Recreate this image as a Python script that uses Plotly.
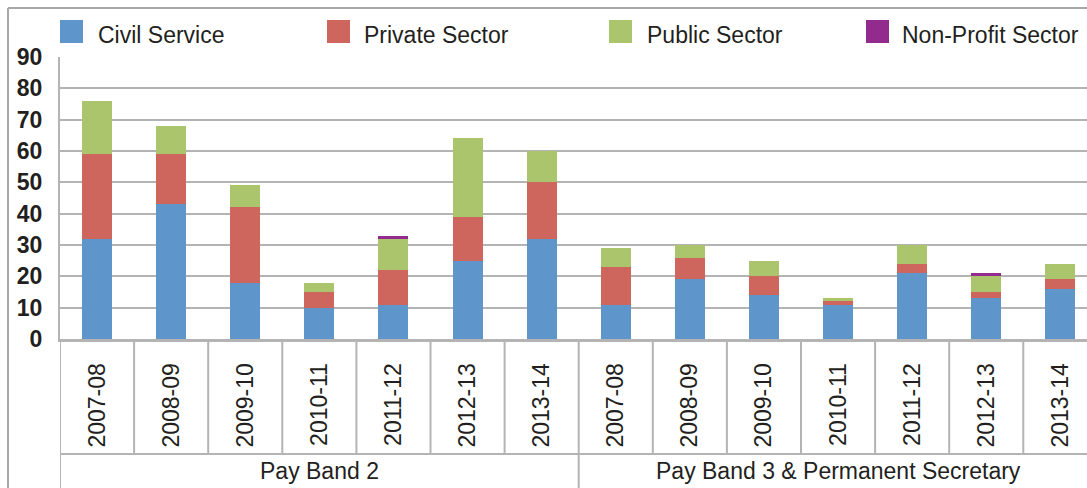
import plotly.graph_objects as go

# Financial years shown inside each pay band group
years = ["2007-08", "2008-09", "2009-10", "2010-11", "2011-12", "2012-13", "2013-14"]
groups = ["Pay Band 2", "Pay Band 3 & Permanent Secretary"]

# Appointments by sector (Pay Band 2 years, then Pay Band 3 & Perm Sec years)
civil_service = [32, 43, 18, 10, 11, 25, 32, 11, 19, 14, 11, 21, 13, 16]
private_sector = [27, 16, 24, 5, 11, 14, 18, 12, 7, 6, 1, 3, 2, 3]
public_sector = [17, 9, 7, 3, 10, 25, 10, 6, 4, 5, 1, 6, 5, 5]
non_profit_sector = [0, 0, 0, 0, 1, 0, 0, 0, 0, 0, 0, 0, 1, 0]

series_names = ["Civil Service", "Private Sector", "Public Sector", "Non-Profit Sector"]
series_values = [civil_service, private_sector, public_sector, non_profit_sector]
series_colors = ["#5E95CB", "#CF665D", "#ABC56D", "#922B8D"]

y_ticks = [0, 10, 20, 30, 40, 50, 60, 70, 80, 90]

W, H = 1087, 488
ML, MR, MT, MB = 60, 0, 57, 149
PW, PH = W - ML - MR, H - MT - MB
LINE = "#B4B4B4"
TEXT = "#231F20"
FONT = "Liberation Sans"


def px_x(p):
    return (p - ML) / PW


def px_y(p):
    return (H - MB - p) / PH


categories = [y for _ in groups for y in years]
xpos = list(range(len(categories)))
n_per_group = len(years)

fig = go.Figure()
for name, vals, col in zip(series_names, series_values, series_colors):
    fig.add_trace(go.Bar(
        x=xpos, y=[v if v else None for v in vals], name=name,
        marker=dict(color=col, line=dict(width=0)),
        width=0.405, showlegend=False,
    ))

slot_px = 74.1
x_end = len(categories) - 0.5 - (ML + slot_px * len(categories) - W) / slot_px

shapes = []
# Outer chart border (left and top edges)
shapes.append(dict(type="line", xref="paper", yref="paper",
                   x0=px_x(8), x1=px_x(8), y0=px_y(8), y1=px_y(H + 5),
                   line=dict(color="#A8A8A8", width=2)))
shapes.append(dict(type="line", xref="paper", yref="paper",
                   x0=px_x(8), x1=1.02, y0=px_y(8), y1=px_y(8),
                   line=dict(color="#A8A8A8", width=2)))

# Category dividers below the axis
for k in range(len(categories) + 1):
    xb = k - 0.5
    bottom = px_y(H + 5) if k % n_per_group == 0 else px_y(454)
    shapes.append(dict(type="line", xref="x", yref="paper",
                       x0=xb, x1=xb, y0=0, y1=bottom,
                       line=dict(color=LINE, width=2)))
shapes.append(dict(type="line", xref="x", yref="paper",
                   x0=-0.5, x1=len(categories), y0=px_y(454), y1=px_y(454),
                   line=dict(color=LINE, width=2)))

# Legend swatches
legend_x = [60, 327, 609, 866]
legend_text_x = [96, 362, 645, 900]
annotations = []
for name, col, sx, tx in zip(series_names, series_colors, legend_x, legend_text_x):
    shapes.append(dict(type="rect", xref="paper", yref="paper",
                       x0=px_x(sx), x1=px_x(sx + 23), y0=px_y(20), y1=px_y(43),
                       fillcolor=col, line=dict(width=0)))
    annotations.append(dict(xref="paper", yref="paper", x=px_x(tx), y=px_y(35),
                            text=name, showarrow=False, xanchor="left", yanchor="middle",
                            font=dict(family=FONT, size=23, color=TEXT)))

# Group labels
for g, name in enumerate(groups):
    annotations.append(dict(xref="x", yref="paper",
                            x=g * n_per_group + (n_per_group - 1) / 2, y=px_y(471),
                            text=name, showarrow=False, xanchor="center", yanchor="middle",
                            font=dict(family=FONT, size=23, color=TEXT)))

fig.update_layout(
    width=W, height=H,
    margin=dict(l=ML, r=MR, t=MT, b=MB, pad=0),
    barmode="stack",
    plot_bgcolor="white", paper_bgcolor="white",
    shapes=shapes, annotations=annotations,
    showlegend=False,
    xaxis=dict(
        range=[-0.5, x_end], tickmode="array", tickvals=xpos, ticktext=categories,
        tickangle=-90, tickfont=dict(family=FONT, size=23, color=TEXT),
        showgrid=False, zeroline=False, showline=True, linecolor=LINE, linewidth=3,
        ticks="", ticklabelstandoff=12,
    ),
    yaxis=dict(
        range=[0, 90], tickmode="array", tickvals=y_ticks,
        tickfont=dict(family=FONT, size=23, color=TEXT, weight="bold"),
        showgrid=True, gridcolor=LINE, gridwidth=2,
        zeroline=False, showline=True, linecolor=LINE, linewidth=2,
        ticks="", ticklabelstandoff=11,
    ),
)

fig.write_html("out.html")
